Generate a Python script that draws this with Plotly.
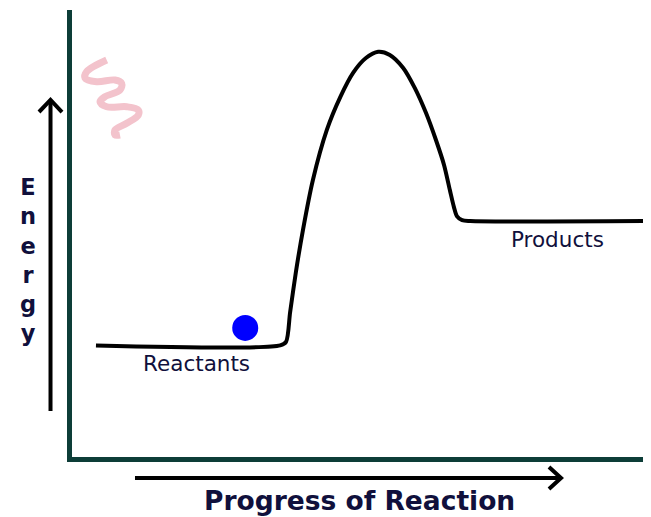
import plotly.graph_objects as go

# Reaction coordinate curve (progress 0-100, energy 0-100)
progress = [4.8, 36.4, 37.4, 38.1, 39.1, 40.3, 42.0, 44.4, 46.7, 48.9, 51.1, 53.2,
            55.2, 57.5, 59.5, 61.4, 63.1, 64.5, 65.5, 66.2, 66.7, 67.6, 69.0, 100]
energy = [25.3, 25.3, 26.1, 32.7, 41.7, 51.0, 62.1, 73.3, 80.6, 86.0, 89.3, 90.7,
          90.0, 87.1, 82.6, 77.1, 71.1, 65.5, 59.9, 56.1, 54.1, 53.2, 53.0, 53.0]

# Ball (reactant particle)
ball_x = [30.4]
ball_y = [29.2]

# Pink squiggle (heat)
squig_x = [6.64, 3.21, 2.92, 4.92, 8.06, 9.21, 8.92, 6.35, 5.49, 6.64, 10.07,
           12.06, 12.06, 10.07, 8.06, 8.06, 8.92]
squig_y = [88.86, 86.26, 84.86, 84.03, 84.41, 83.67, 82.18, 80.69, 79.58, 78.46,
           78.46, 77.73, 76.61, 74.77, 73.27, 72.16, 72.16]

# Labels
labels = ["Reactants", "Products"]
label_x = [21.96, 83.88]
label_y = [21.2, 48.8]

y_title = "E<br>n<br>e<br>r<br>g<br>y"
x_title = "Progress of Reaction"

TEXT = "#10103c"
AXIS = "#0d3d38"
FONT = "DejaVu Sans"

fig = go.Figure()
fig.add_trace(go.Scatter(x=squig_x, y=squig_y, mode="lines",
                         line=dict(color="#f3c3cc", width=7, shape="spline", smoothing=1.0),
                         hoverinfo="skip"))
fig.add_trace(go.Scatter(x=progress, y=energy, mode="lines",
                         line=dict(color="black", width=4, shape="spline", smoothing=0.8),
                         hoverinfo="skip"))
fig.add_trace(go.Scatter(x=ball_x, y=ball_y, mode="markers",
                         marker=dict(color="#0000ff", size=26, line=dict(width=0)),
                         hoverinfo="skip"))

for t, x, y in zip(labels, label_x, label_y):
    fig.add_annotation(x=x, y=y, xref="x", yref="y", text=t, showarrow=False,
                       font=dict(family=FONT, size=21.5, color=TEXT))

fig.add_annotation(x=-0.076, y=0.4418, xref="paper", yref="paper", text=y_title,
                   showarrow=False, xanchor="center", yanchor="middle", align="center",
                   font=dict(family=FONT, size=22.5, color=TEXT, weight="bold"))

fig.add_annotation(x=0.4974, y=-0.0962, xref="paper", yref="paper",
                   text=x_title, showarrow=False,
                   xanchor="center", yanchor="middle",
                   font=dict(family=FONT, size=26.5, color=TEXT, weight="bold"))

# Arrows (paper coordinates)
arrow_line = dict(color="black", width=4)
fig.add_shape(type="line", xref="paper", yref="paper", x0=-0.0371, x1=-0.0371,
              y0=0.1029, y1=0.795, line=arrow_line)
fig.add_shape(type="path", xref="paper", yref="paper",
              path="M -0.057,0.7718 L -0.0371,0.7987 L -0.0173,0.7718",
              line=arrow_line)
fig.add_shape(type="line", xref="paper", yref="paper", x0=0.1088, x1=0.842,
              y0=-0.047, y1=-0.047, line=arrow_line)
fig.add_shape(type="path", xref="paper", yref="paper",
              path="M 0.8238,-0.0224 L 0.8446,-0.047 L 0.8238,-0.0716",
              line=arrow_line)

fig.update_layout(
    width=643, height=509,
    margin=dict(l=64, r=0, t=2, b=60),
    paper_bgcolor="white", plot_bgcolor="white",
    showlegend=False,
    xaxis=dict(range=[0.69, 100], showgrid=False, zeroline=False, showticklabels=False,
               ticks="", showline=True, linecolor=AXIS, linewidth=5, fixedrange=True),
    yaxis=dict(range=[0.45, 100], showgrid=False, zeroline=False, showticklabels=False,
               ticks="", showline=True, linecolor=AXIS, linewidth=5, fixedrange=True),
)
fig.write_html("out.html")
